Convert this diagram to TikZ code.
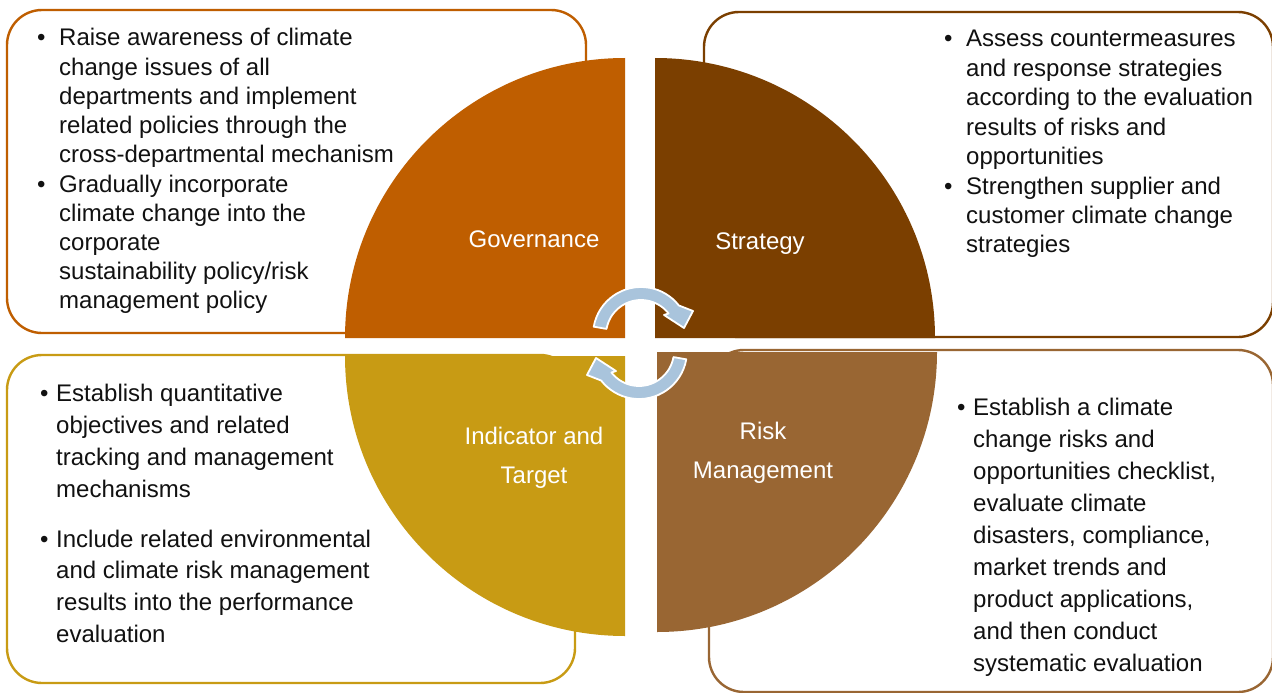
\documentclass[tikz,border=0pt]{standalone}
\usepackage{fontspec}
\setmainfont{Liberation Sans}
\usetikzlibrary{calc}
\definecolor{govc}{HTML}{BF5E00}
\definecolor{strc}{HTML}{7B3F00}
\definecolor{indc}{HTML}{C89B14}
\definecolor{riskc}{HTML}{996633}
\definecolor{arrc}{HTML}{A9C4DC}
\definecolor{txtc}{HTML}{111111}
\begin{document}
\begin{tikzpicture}[x=1pt,y=1pt,yscale=-1,
  box/.style={line width=2.4pt, rounded corners=35pt, fill=white},
  seclabel/.style={text=white, font=\fontsize{24}{29}\selectfont, inner sep=0pt, anchor=base},
  body/.style={font=\fontsize{24}{29}\selectfont, inner sep=0pt, anchor=base west, text=txtc},
  arrowshape/.style={fill=arrc, draw=white, line width=1.8pt, line join=round}]
\useasboundingbox (0,0) rectangle (1272,693);
\fill[white] (0,0) rectangle (1272,693);
% boxes
\draw[box, draw=govc] (7,10) rectangle (586,333);
\draw[box, draw=strc] (704,12) rectangle (1273,337);
\draw[box, draw=indc] (7,355) rectangle (575,683);
\draw[box, draw=riskc] (709,350) rectangle (1273,692);
% sectors
\fill[govc] (625,338) -- (345,338) arc[start angle=180, end angle=270, radius=280] -- cycle;
\fill[strc] (655,338) -- (935,338) arc[start angle=0, end angle=-90, radius=280] -- cycle;
\fill[indc] (625,356) -- (345,356) arc[start angle=180, end angle=90, radius=280] -- cycle;
\fill[riskc] (657,352) -- (937,352) arc[start angle=0, end angle=90, radius=280] -- cycle;
% circular arrows
\path[arrowshape] ($(641,335)+(-170:48)$) arc[start angle=-170, end angle=-38, radius=48]
  -- (693,311) -- (684,328) -- (664,315) -- ($(641,335)+(-38:35)$)
  arc[start angle=-38, end angle=-170, radius=35] -- cycle;
\begin{scope}[rotate around={180:(640,343)}]
\path[arrowshape] ($(641,335)+(-170:48)$) arc[start angle=-170, end angle=-38, radius=48]
  -- (693,311) -- (684,328) -- (664,315) -- ($(641,335)+(-38:35)$)
  arc[start angle=-38, end angle=-170, radius=35] -- cycle;
\end{scope}
% sector labels
\node[seclabel] (lgov) at (534,247) {Governance};
\node[seclabel] (lstr) at (760,249) {Strategy};
\node[seclabel] (lind1) at (534,444) {Indicator and};
\node[seclabel] (lind2) at (534,483) {Target};
\node[seclabel] (lrisk1) at (763,439) {Risk};
\node[seclabel] (lrisk2) at (763,478) {Management};
% top-left text
\node[body] (bga) at (37,46) {•};
\node[body] (tga) at (59,46) {\vtop{\baselineskip=29.2pt
  \hbox{Raise awareness of climate}
  \hbox{change issues of all}
  \hbox{departments and implement}
  \hbox{related policies through the}
  \hbox{cross-departmental mechanism}}};
\node[body] (bgb) at (37,192) {•};
\node[body] (tgb) at (59,192) {\vtop{\baselineskip=29.2pt
  \hbox{Gradually incorporate}
  \hbox{climate change into the}
  \hbox{corporate}
  \hbox{sustainability policy/risk}
  \hbox{management policy}}};
% top-right text
\node[body] (bsa) at (944,47) {•};
\node[body] (tsa) at (966,47) {\vtop{\baselineskip=29.4pt
  \hbox{Assess countermeasures}
  \hbox{and response strategies}
  \hbox{according to the evaluation}
  \hbox{results of risks and}
  \hbox{opportunities}}};
\node[body] (bsb) at (944,194) {•};
\node[body] (tsb) at (966,194) {\vtop{\baselineskip=29.4pt
  \hbox{Strengthen supplier and}
  \hbox{customer climate change}
  \hbox{strategies}}};
% bottom-left text
\node[body] (bia) at (40,401) {•};
\node[body] (tia) at (56,401) {\vtop{\baselineskip=32.1pt
  \hbox{Establish quantitative}
  \hbox{objectives and related}
  \hbox{tracking and management}
  \hbox{mechanisms}}};
\node[body] (bib) at (40,547) {•};
\node[body] (tib) at (56,547) {\vtop{\baselineskip=31.7pt
  \hbox{Include related environmental}
  \hbox{and climate risk management}
  \hbox{results into the performance}
  \hbox{evaluation}}};
% bottom-right text
\node[body] (bra) at (957,415) {•};
\node[body] (tra) at (973,415) {\vtop{\baselineskip=32.1pt
  \hbox{Establish a climate}
  \hbox{change risks and}
  \hbox{opportunities checklist,}
  \hbox{evaluate climate}
  \hbox{disasters, compliance,}
  \hbox{market trends and}
  \hbox{product applications,}
  \hbox{and then conduct}
  \hbox{systematic evaluation}}};
\end{tikzpicture}
\end{document}
